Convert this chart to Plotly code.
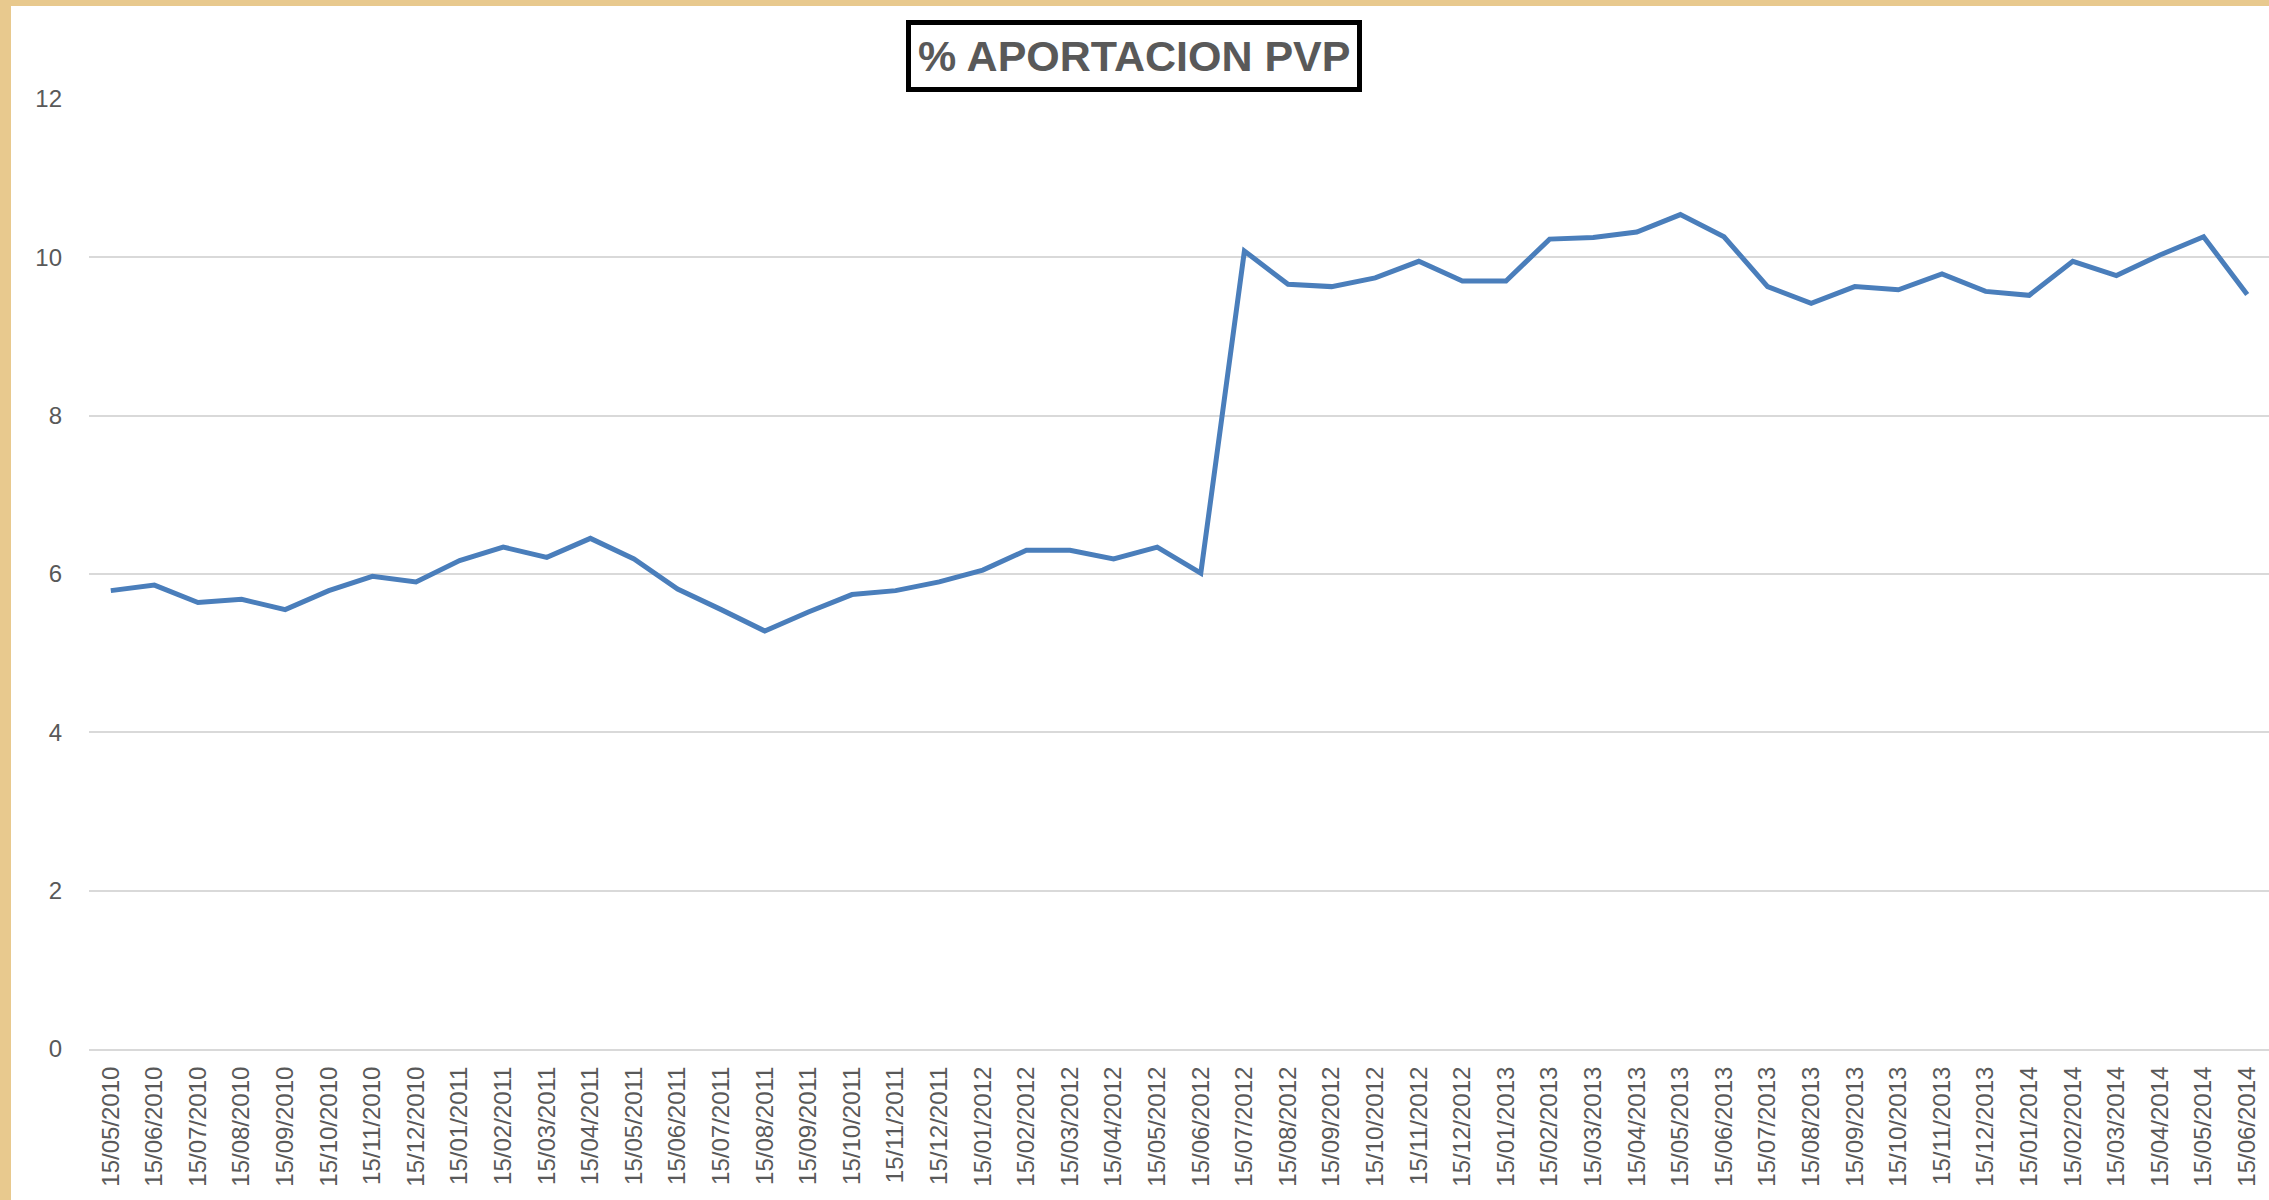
import plotly.graph_objects as go

dates = [
    "15/05/2010", "15/06/2010", "15/07/2010", "15/08/2010", "15/09/2010", "15/10/2010",
    "15/11/2010", "15/12/2010", "15/01/2011", "15/02/2011", "15/03/2011", "15/04/2011",
    "15/05/2011", "15/06/2011", "15/07/2011", "15/08/2011", "15/09/2011", "15/10/2011",
    "15/11/2011", "15/12/2011", "15/01/2012", "15/02/2012", "15/03/2012", "15/04/2012",
    "15/05/2012", "15/06/2012", "15/07/2012", "15/08/2012", "15/09/2012", "15/10/2012",
    "15/11/2012", "15/12/2012", "15/01/2013", "15/02/2013", "15/03/2013", "15/04/2013",
    "15/05/2013", "15/06/2013", "15/07/2013", "15/08/2013", "15/09/2013", "15/10/2013",
    "15/11/2013", "15/12/2013", "15/01/2014", "15/02/2014", "15/03/2014", "15/04/2014",
    "15/05/2014", "15/06/2014",
]

aportacion_pvp = [
    5.79, 5.86, 5.64, 5.68, 5.55, 5.79, 5.97, 5.90, 6.17, 6.34,
    6.21, 6.45, 6.19, 5.81, 5.55, 5.28, 5.52, 5.74, 5.79, 5.90,
    6.05, 6.30, 6.30, 6.19, 6.34, 6.01, 10.08, 9.66, 9.63, 9.74,
    9.95, 9.70, 9.70, 10.23, 10.25, 10.32, 10.54, 10.26, 9.63, 9.42,
    9.63, 9.59, 9.79, 9.57, 9.52, 9.95, 9.77, 10.03, 10.26, 9.53,
]

y_ticks = [0, 2, 4, 6, 8, 10, 12]
title_text = "% APORTACION PVP"

W, H = 2269, 1200
ML, MR, MT, MB = 89, 0, 99, 151
PW, PH = W - ML - MR, H - MT - MB
TAN = "#E8C98E"

fig = go.Figure()
fig.add_trace(go.Scatter(
    x=dates, y=aportacion_pvp, mode="lines",
    line=dict(color="#4A7EBB", width=5),
    hoverinfo="x+y", showlegend=False,
))

# white chart area over the textured tan border
fig.add_shape(
    type="rect", xref="paper", yref="paper", layer="below",
    x0=(11 - ML) / PW, x1=1.01,
    y0=-(MB + 10) / PH, y1=(H - MB - 6) / PH,
    fillcolor="white", line=dict(width=0),
)

fig.add_annotation(
    text="<b>" + title_text + "</b>", xref="paper", yref="paper",
    x=(1134 - ML) / PW, y=(H - MB - 56) / PH, xanchor="center", yanchor="middle",
    showarrow=False,
    font=dict(family="Liberation Sans, Arial, sans-serif", size=43, color="#595959"),
    bordercolor="black", borderwidth=5, borderpad=7, bgcolor="white",
)

fig.update_layout(
    width=W, height=H,
    margin=dict(l=ML, r=MR, t=MT, b=MB),
    paper_bgcolor=TAN,
    plot_bgcolor="rgba(0,0,0,0)",
    font=dict(family="Liberation Sans, Arial, sans-serif", color="#595959"),
)
fig.update_xaxes(
    type="category", range=[-0.5, len(dates) - 0.5],
    tickangle=-90, tickfont=dict(size=24, color="#595959"),
    showgrid=False, showline=True, linecolor="#D9D9D9", linewidth=2,
    ticks="", ticklabelstandoff=6, fixedrange=True,
)
fig.update_yaxes(
    range=[0, 12], tickvals=y_ticks, ticktext=[str(v) for v in y_ticks],
    tickfont=dict(size=24, color="#595959"),
    showgrid=True, gridcolor="#D9D9D9", gridwidth=2,
    zeroline=False, showline=False, ticks="", ticklabelstandoff=26,
    fixedrange=True,
)

fig.write_html(
    "out.html",
    config={"displayModeBar": False},
    post_script="document.body.style.margin='0';document.body.style.background='" + TAN + "';",
)
